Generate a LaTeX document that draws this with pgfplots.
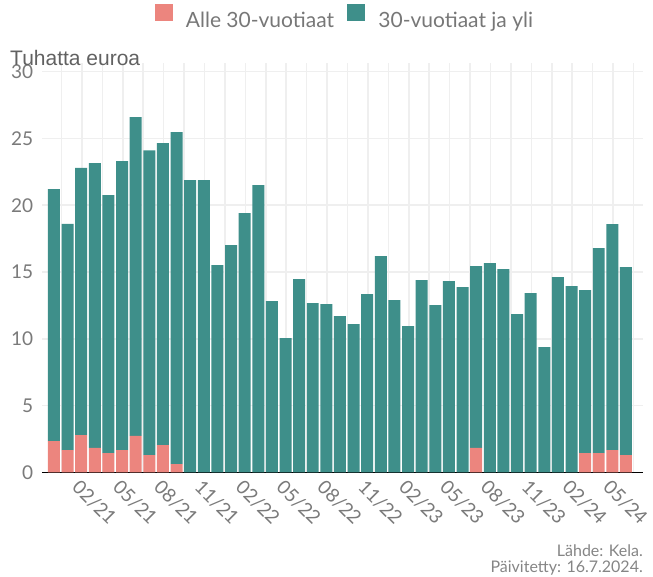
\documentclass[border=0pt]{standalone}
\usepackage{fontspec}
\setmainfont{Lato}
\newfontfamily\arialf{Liberation Sans}
\usepackage{pgfplots}
\usepackage{pgfplotstable}
\pgfplotsset{compat=1.18}
\definecolor{pinkc}{HTML}{EC857E}
\definecolor{tealc}{HTML}{3E8F8A}
\definecolor{gridc}{HTML}{EFEFEF}
\definecolor{tickc}{HTML}{7A7A7A}
\definecolor{legc}{HTML}{777777}
\definecolor{titc}{HTML}{616161}
\definecolor{capc}{HTML}{858585}
\pgfplotstableread{
x young old
0 2.34 18.86
1 1.67 16.93
2 2.79 20.01
3 1.82 21.33
4 1.44 19.32
5 1.67 21.63
6 2.72 23.88
7 1.29 22.81
8 2.04 22.61
9 0.62 24.85
10 0 21.88
11 0 21.88
12 0 15.52
13 0 17.01
14 0 19.40
15 0 21.50
16 0 12.82
17 0 10.05
18 0 14.47
19 0 12.67
20 0 12.60
21 0 11.70
22 0 11.10
23 0 13.35
24 0 16.19
25 0 12.90
26 0 10.95
27 0 14.40
28 0 12.52
29 0 14.32
30 0 13.87
31 1.82 13.62
32 0 15.67
33 0 15.22
34 0 11.85
35 0 13.42
36 0 9.38
37 0 14.62
38 0 13.94
39 1.44 12.21
40 1.44 15.35
41 1.67 16.92
42 1.29 14.08
}\datatable
\begin{document}
\begin{tikzpicture}[x=1pt,y=1pt]
\useasboundingbox (0,0) rectangle (653,576);
\begin{axis}[
  at={(42pt,103.7pt)}, anchor=south west,
  scale only axis, width=601pt, height=409.3pt,
  xmin=-0.88, xmax=43.25, ymin=0, ymax=30.65,
  ybar stacked, bar width=0.88,
  axis x line*=bottom, axis y line*=left,
  x axis line style={-, black, line width=1.3pt},
  y axis line style={draw=none},
  xtick={0.55,3.55,...,42.6},
  xticklabels={02/21,05/21,08/21,11/21,02/22,05/22,08/22,11/22,02/23,05/23,08/23,11/23,02/24,05/24,{}},
  minor xtick={-0.95,2.05,...,41.1},
  ytick={0,5,...,30},
  major tick length=0pt, minor tick length=0pt,
  xmajorgrids, xminorgrids, ymajorgrids,
  major grid style={gridc, line width=1.6pt},
  minor grid style={gridc, line width=1.6pt},
  /pgf/number format/assume math mode=true,
  yticklabel style={font=\fontsize{19}{22}\selectfont, text=tickc, anchor=east, inner sep=0pt, xshift=-8.7pt},
  xticklabel style={font=\fontsize{19}{22}\selectfont, text=tickc, inner sep=0pt, xshift=19.5pt, yshift=-6pt, rotate=-45, anchor=north west},
  legend style={at={(0.5025,1.1143)}, anchor=center, legend columns=2, draw=none, fill=none,
    font=\fontsize{21}{25}\selectfont, text=legc, inner sep=0pt,
    nodes={inner sep=0pt},
    /tikz/every even column/.append style={column sep=13.3pt}},
]
\addplot[fill=pinkc, draw=none, legend image code/.code={\fill[pinkc] (0pt,-1.2pt) rectangle (17.7pt,16.5pt); \path (31pt,0pt);}] table[x=x, y=young] {\datatable};
\addplot[fill=tealc, draw=none, legend image code/.code={\fill[tealc] (0pt,-1.2pt) rectangle (17.7pt,16.5pt); \path (31pt,0pt);}] table[x=x, y=old] {\datatable};
\legend{Alle 30-vuotiaat, 30-vuotiaat ja yli}
\end{axis}
\node[anchor=base west, inner sep=0pt, text=titc, font=\arialf\fontsize{21}{25}\selectfont] at (10,510) {Tuhatta euroa};
\node[anchor=base east, inner sep=0pt, text=capc, font=\fontsize{16}{19}\selectfont] at (643,19.3) {Lähde: Kela.};
\node[anchor=base east, inner sep=0pt, text=capc, font=\fontsize{16}{19}\selectfont] at (643,3.3) {Päivitetty: 16.7.2024.};
\end{tikzpicture}
\end{document}
